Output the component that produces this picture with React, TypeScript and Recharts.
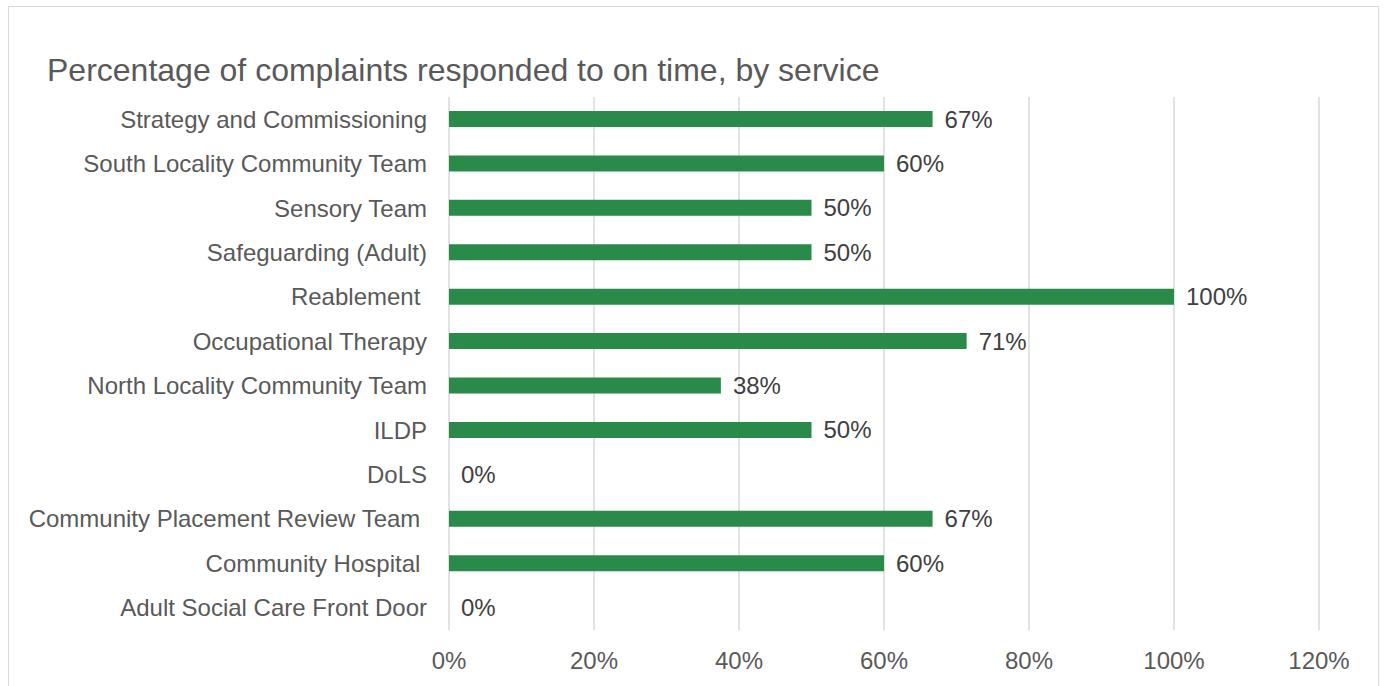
import { Bar, BarChart, CartesianGrid, LabelList, XAxis, YAxis } from "recharts";

const services = [
  "Strategy and Commissioning",
  "South Locality Community Team",
  "Sensory Team",
  "Safeguarding (Adult)",
  "Reablement ",
  "Occupational Therapy",
  "North Locality Community Team",
  "ILDP",
  "DoLS",
  "Community Placement Review Team ",
  "Community Hospital ",
  "Adult Social Care Front Door",
];
const onTime = [66.7, 60, 50, 50, 100, 71.4, 37.5, 50, 0, 66.7, 60, 0];
const xTicks = [0, 20, 40, 60, 80, 100, 120];

const data = services.map((s, i) => ({ service: s, pct: onTime[i] }));

const FONT = "'Liberation Sans', Arial, sans-serif";

function CategoryTick({ x, y, payload }: any) {
  return (
    <text
      x={x}
      y={y}
      dy="0.355em"
      textAnchor="end"
      fill="#595959"
      fontSize={24}
      fontFamily={FONT}
      style={{ whiteSpace: "pre" }}
    >
      {payload.value}
    </text>
  );
}

export default function App() {
  return (
    <div
      style={{
        position: "fixed",
        left: 0,
        top: 0,
        width: 1385,
        height: 686,
        overflow: "hidden",
        background: "#fff",
        fontFamily: FONT,
      }}
    >
      <div
        style={{
          position: "absolute",
          left: 8,
          top: 6,
          width: 1369,
          height: 720,
          border: "1px solid #d9d9d9",
        }}
      />
      <div
        style={{
          position: "absolute",
          left: 47,
          top: 54,
          fontSize: 32,
          lineHeight: "32px",
          color: "#595959",
          whiteSpace: "nowrap",
        }}
      >
        Percentage of complaints responded to on time, by service
      </div>
      <div style={{ position: "absolute", left: 0, top: 0 }}>
        <BarChart
          width={1385}
          height={686}
          data={data}
          layout="vertical"
          barSize={16}
          margin={{ top: 97, right: 66, bottom: 26, left: 0 }}
          style={{ fontFamily: FONT }}
        >
          <CartesianGrid horizontal={false} stroke="#d9d9d9" strokeWidth={1.5} />
          <XAxis
            type="number"
            domain={[0, 120]}
            ticks={xTicks}
            tickFormatter={(v) => `${v}%`}
            axisLine={false}
            tickLine={false}
            tickMargin={16}
            height={30}
            tick={{ fill: "#595959", fontSize: 24 }}
            interval={0}
          />
          <YAxis
            type="category"
            dataKey="service"
            width={449}
            axisLine={false}
            tickLine={false}
            tickMargin={16}
            interval={0}
            tick={<CategoryTick />}
          />
          <Bar dataKey="pct" fill="#2a8a4a" minPointSize={0.01} isAnimationActive={false}>
            <LabelList
              dataKey="pct"
              position="right"
              offset={12}
              fill="#404040"
              fontSize={24}
              formatter={(v: any) => `${Math.round(v)}%`}
            />
          </Bar>
        </BarChart>
      </div>
    </div>
  );
}
